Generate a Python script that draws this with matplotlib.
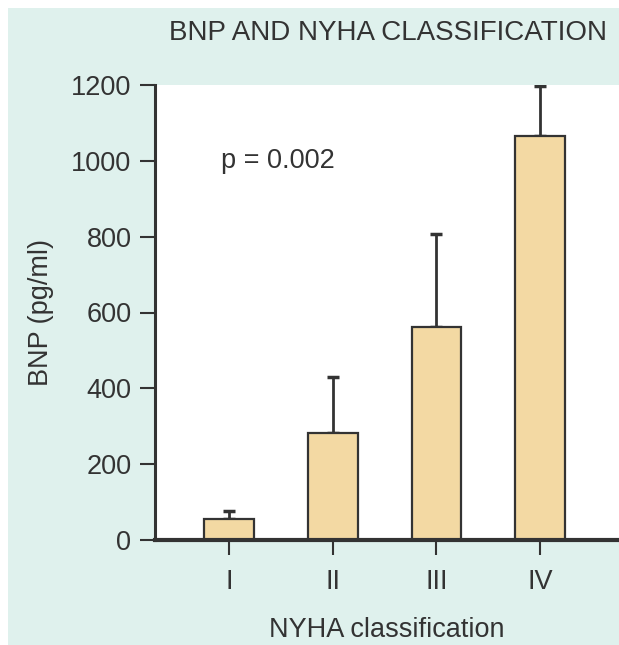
import numpy as np
import matplotlib
matplotlib.use("Agg")
import matplotlib.pyplot as plt
from matplotlib.patches import Rectangle

plt.rcParams['font.family'] = ['Liberation Sans', 'DejaVu Sans']

# data
classes = ['I', 'II', 'III', 'IV']
bnp_mean = [55, 282, 562, 1065]
bnp_err = [21, 148, 245, 132]
y_ticks = [0, 200, 400, 600, 800, 1000, 1200]

mint = '#dff1ed'
bar_col = '#f3d9a3'
ink = '#333333'

fig = plt.figure(figsize=(6.19, 6.45), dpi=100, facecolor='white')
# mint panel behind everything, leaving a thin white border top/left
fig.patches.append(Rectangle((8 / 619, 0), 1, 1 - 8 / 645, transform=fig.transFigure,
                             facecolor=mint, edgecolor='none', zorder=-5))

ax = fig.add_axes([155 / 619, 105 / 645, 464 / 619, 455 / 645])
ax.set_facecolor('white')

x = np.arange(1, len(classes) + 1)
ax.bar(x, bnp_mean, width=0.48, color=bar_col, edgecolor=ink, linewidth=1.6, zorder=2)
ax.errorbar(x, bnp_mean, yerr=[np.zeros(len(bnp_err)), bnp_err], fmt='none',
            ecolor=ink, elinewidth=2, capsize=4.5, capthick=2.5, zorder=1)

ax.set_xlim(0.286, 4.76)
ax.set_ylim(0, 1200)
ax.set_xticks(x)
ax.set_xticklabels(classes)
ax.set_yticks(y_ticks)

for s in ['top', 'right']:
    ax.spines[s].set_visible(False)
ax.spines['left'].set_linewidth(2.2)
ax.spines['bottom'].set_linewidth(3)
ax.spines['left'].set_color(ink)
ax.spines['bottom'].set_color(ink)

ax.tick_params(axis='both', direction='out', length=11, width=1.5, color=ink,
               labelsize=19.5, labelcolor=ink)
ax.tick_params(axis='y', pad=6)
ax.tick_params(axis='x', pad=10)

ax.set_ylabel('BNP (pg/ml)', fontsize=19.5, color=ink, labelpad=12)
ax.set_xlabel('NYHA classification', fontsize=19.5, color=ink, labelpad=16)

fig.text(388 / 619, 1 - 33 / 645, 'BNP AND NYHA CLASSIFICATION', ha='center', va='center',
         fontsize=20, color=ink)
ax.text(0.92, 1000, 'p = 0.002', ha='left', va='center', fontsize=19.5, color=ink)

fig.savefig('out.png', dpi=100, facecolor=fig.get_facecolor())
